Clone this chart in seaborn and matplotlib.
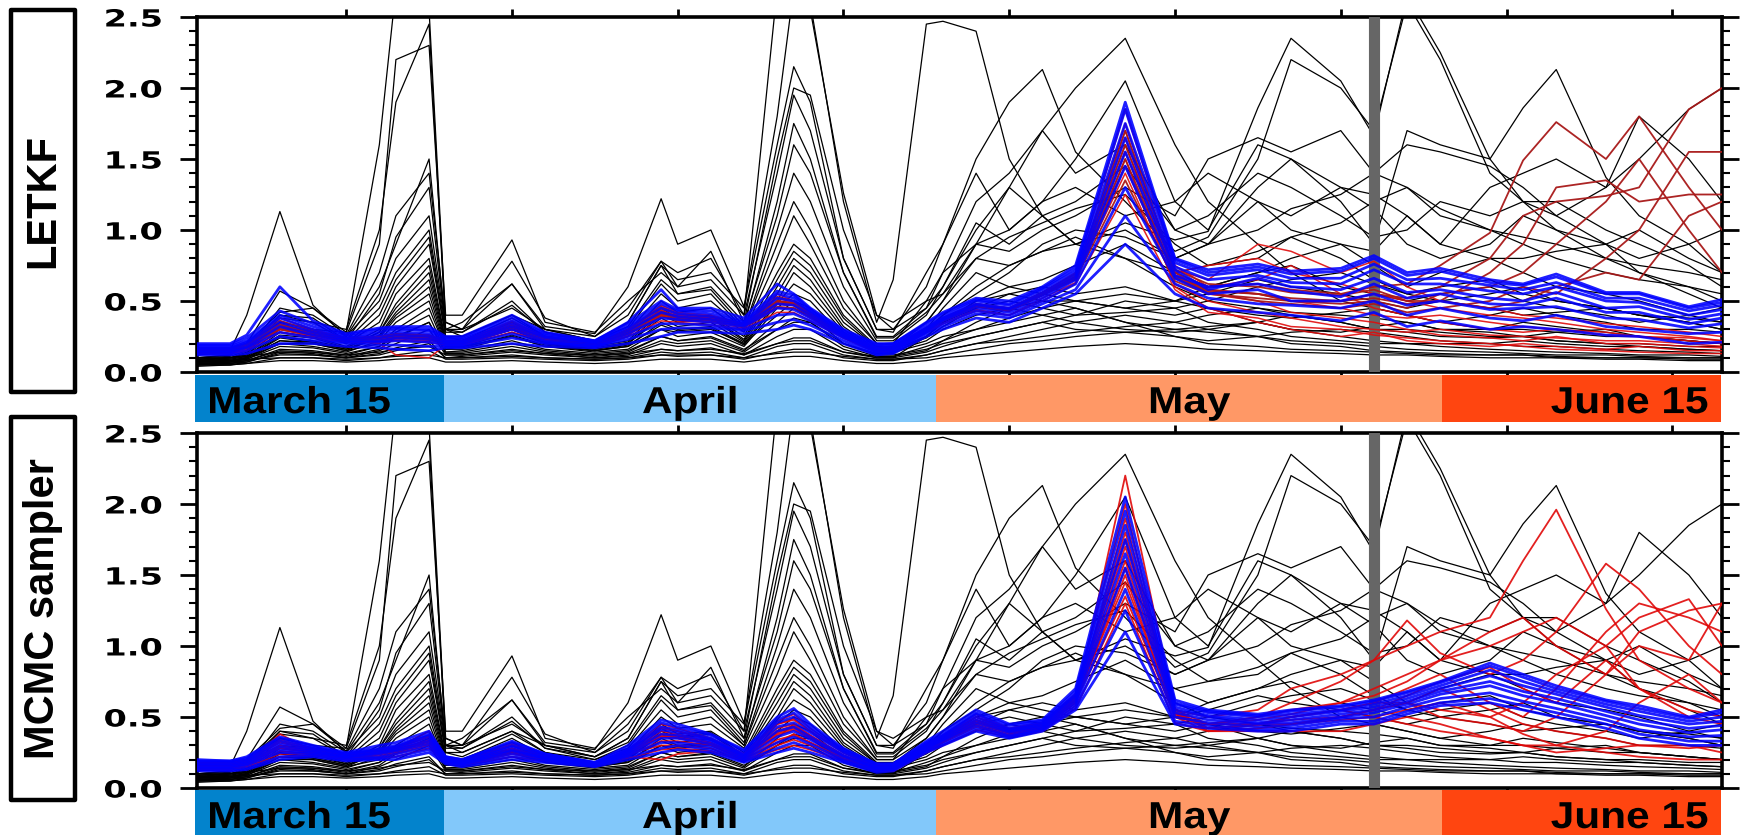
import matplotlib
matplotlib.use("Agg")
import matplotlib.pyplot as plt
from matplotlib.patches import Rectangle
from matplotlib.patheffects import AbstractPathEffect
from matplotlib.ticker import MultipleLocator
from matplotlib.transforms import Affine2D
import pandas as pd
import seaborn as sns

# day index (0 = March 16) of the values
days = [0, 2, 3, 5, 7, 9, 11, 12, 14, 15,
        16, 19, 21, 24, 26, 28, 29, 31, 33, 35,
        36, 37, 39, 41, 42, 44, 45, 47, 49, 51,
        53, 56, 59, 61, 64, 66, 69, 71, 73, 75,
        78, 80, 82, 85, 87, 90, 92]

# black runs (same in both panels)
black_runs = [
    [.12,.14,.20,.35,.30,.28,1.60,2.70,2.55,.35, .30,.45,.30,.25,.45,.78,.70,.80,.40,2.70, 2.80,2.60,1.20,.35,.65,2.45,2.47,2.40,1.50,1.10, .90,.80,.60,.50,.45,.40,.35,.30,.30,.28, .25,.25,.22,.20,.20,.18,.18],
    [.10,.12,.18,.40,.35,.30,1.00,1.90,2.45,.30, .25,.40,.30,.22,.35,.75,.65,.70,.45,1.60, 2.15,1.90,.80,.30,.30,.45,.60,1.00,1.30,1.70, 2.00,2.35,1.60,1.20,.90,.70,.50,.45,.40,.35, .30,.30,.28,.25,.25,.22,.20],
    [.12,.15,.20,.42,.45,.28,.90,2.20,2.30,.40, .40,.93,.35,.28,.50,.70,.60,.85,.35,1.50, 2.00,1.95,1.00,.40,.35,.50,.55,.80,.75,.85, .90,1.05,.93,.99,1.86,2.35,2.05,1.66,2.65,2.25, 1.50,1.86,2.13,1.37,1.10,.90,.70],
    [.13,.15,.40,1.13,.47,.25,.60,.90,1.50,.30, .35,.62,.32,.27,.60,1.22,.90,1.00,.46,1.80, 2.70,2.55,1.26,.40,.30,.60,.90,1.50,1.90,2.13, 1.55,1.20,.85,.95,1.50,2.20,2.00,1.70,2.60,2.20, 1.40,1.20,1.10,1.30,1.80,1.50,1.20],
    [.10,.12,.20,.57,.45,.26,.70,1.10,1.40,.35, .30,.78,.38,.25,.40,.78,.60,.65,.40,1.40, 1.95,1.70,.80,.30,.28,.70,.90,1.40,1.00,1.20, 1.50,2.05,1.20,1.00,1.60,1.50,1.30,1.25,1.10,.90, 1.30,1.40,1.50,1.30,1.50,1.85,2.00],
    [.10,.11,.15,.45,.40,.25,.50,.80,1.10,.30, .30,.62,.30,.22,.35,.75,.55,.60,.35,1.10, 1.60,1.40,.70,.25,.25,.45,.70,1.20,1.40,1.70, 1.40,1.60,1.00,.90,1.30,1.50,1.20,.90,1.70,1.60, 1.50,1.20,1.00,.90,1.00,.80,.70],
    [.09,.10,.13,.38,.35,.22,.45,.70,1.00,.28, .28,.47,.28,.20,.30,.62,.50,.55,.30,1.00, 1.40,1.20,.60,.22,.22,.40,.60,1.05,.90,1.10, 1.20,1.45,1.00,1.10,1.40,1.30,1.10,.95,1.00,1.20, 1.10,1.20,1.20,1.00,.90,.75,.60],
    [.09,.10,.12,.35,.30,.20,.40,.65,.95,.25, .25,.40,.25,.20,.28,.55,.45,.50,.30,.90, 1.20,1.00,.50,.20,.20,.35,.50,.90,1.00,1.20, 1.30,1.10,1.20,1.40,1.20,1.10,1.30,1.15,.90,.80, .90,1.10,1.00,.80,.70,.60,.50],
    [.08,.10,.12,.30,.28,.20,.35,.60,.90,.25, .22,.38,.25,.18,.25,.50,.42,.45,.28,.80, 1.10,.90,.45,.20,.20,.50,.70,.90,1.30,1.10, .90,1.00,.80,.90,1.20,1.00,.90,.85,1.10,.90, .80,.80,.85,.90,.70,.55,.45],
    [.08,.09,.11,.28,.25,.18,.30,.55,.80,.22, .20,.35,.22,.18,.22,.45,.38,.40,.25,.70, .90,.80,.40,.18,.18,.30,.45,.70,.60,.65, .75,.90,.70,.60,.70,.80,.90,.75,.60,.70, .80,.70,.60,.55,.50,.40,.35],
    [.07,.08,.10,.25,.22,.17,.28,.45,.70,.20, .20,.30,.20,.16,.20,.40,.35,.38,.22,.60, .80,.70,.35,.17,.16,.25,.35,.50,.55,.60, .55,.60,.50,.55,.65,.60,.55,.50,.45,.50, .55,.60,.50,.45,.40,.35,.30],
    [.07,.08,.10,.22,.20,.15,.25,.40,.60,.18, .18,.28,.20,.15,.18,.35,.30,.32,.20,.50, .70,.60,.30,.15,.15,.22,.30,.40,.45,.50, .50,.45,.40,.45,.40,.38,.42,.45,.40,.35, .40,.45,.40,.35,.30,.30,.28],
    [.06,.07,.09,.20,.18,.14,.22,.35,.50,.16, .16,.25,.18,.14,.16,.30,.25,.28,.18,.45, .55,.50,.25,.14,.14,.20,.25,.30,.35,.40, .45,.35,.30,.32,.35,.30,.28,.32,.35,.30, .30,.35,.32,.28,.25,.22,.20],
    [.05,.06,.08,.16,.15,.12,.18,.28,.40,.14, .14,.20,.15,.12,.14,.25,.22,.24,.15,.35, .45,.40,.20,.12,.12,.16,.20,.25,.30,.35, .40,.50,.45,.35,.30,.25,.22,.20,.20,.20, .20,.22,.20,.18,.18,.16,.15],
    [.05,.05,.07,.14,.13,.10,.15,.20,.30,.12, .12,.16,.13,.10,.12,.20,.18,.20,.12,.25, .30,.30,.16,.10,.10,.25,.35,.45,.55,.50, .45,.35,.25,.20,.18,.16,.15,.14,.13,.12, .12,.12,.11,.10,.10,.10,.10],
    [.04,.05,.06,.10,.10,.08,.10,.12,.15,.09, .09,.10,.09,.08,.09,.12,.11,.12,.09,.14, .16,.16,.10,.08,.08,.12,.15,.20,.25,.30, .35,.40,.35,.30,.25,.20,.18,.15,.14,.13, .12,.12,.10,.10,.10,.09,.09],
    [.06,.07,.08,.12,.12,.10,.12,.15,.20,.10, .10,.12,.10,.09,.10,.14,.13,.14,.10,.18, .20,.20,.12,.09,.09,.12,.15,.20,.22,.25, .28,.32,.35,.40,.45,.42,.40,.38,.35,.30, .28,.25,.22,.20,.18,.16,.15],
    [.07,.08,.10,.20,.20,.15,.20,.30,.45,.16, .18,.25,.18,.15,.18,.30,.28,.30,.20,.40, .50,.45,.25,.15,.15,.30,.40,.55,.70,.90, 1.00,.95,.80,.90,1.00,1.15,1.25,1.40,1.60,1.55, 1.45,1.30,1.10,.90,.80,.90,1.00],
    [.06,.07,.09,.18,.17,.13,.18,.25,.35,.14, .15,.22,.16,.13,.15,.25,.22,.25,.16,.30, .35,.35,.20,.13,.13,.25,.35,.50,.60,.55, .50,.45,.50,.60,.70,.75,.60,.55,.50,.55, .60,.50,.45,.40,.35,.40,.45],
    [.05,.06,.07,.13,.12,.10,.13,.17,.22,.10, .11,.14,.12,.10,.11,.16,.15,.17,.12,.20, .24,.24,.14,.10,.10,.14,.18,.25,.30,.35, .30,.28,.25,.22,.25,.28,.30,.28,.25,.22, .20,.18,.18,.16,.15,.14,.13],
    [.08,.08,.09,.10,.10,.09,.10,.11,.12,.10, .10,.11,.10,.09,.10,.12,.12,.12,.10,.13, .14,.14,.11,.09,.09,.10,.12,.16,.20,.22, .25,.28,.30,.28,.25,.22,.20,.18,.16,.15, .14,.13,.12,.12,.11,.10,.10],
    [.10,.10,.11,.14,.14,.12,.14,.16,.18,.12, .12,.15,.13,.12,.13,.16,.15,.16,.13,.20, .22,.22,.14,.11,.11,.18,.22,.30,.38,.45, .50,.55,.50,.45,.35,.30,.25,.22,.20,.18, .16,.15,.14,.13,.12,.12,.11],
    [.09,.10,.14,.40,.38,.22,.55,.95,1.30,.30, .28,.50,.28,.22,.32,.65,.55,.58,.32,1.20, 1.75,1.50,.70,.24,.24,.42,.55,.90,.85,1.00, 1.10,1.30,1.10,1.50,1.65,1.55,1.70,1.40,1.30,1.10, 1.00,.95,.90,.80,.75,.70,.65],
    [.07,.08,.10,.24,.21,.16,.26,.42,.65,.19, .19,.30,.21,.16,.20,.38,.32,.35,.21,.55, .75,.65,.32,.16,.16,.24,.32,.45,.50,.45, .40,.42,.45,.50,.60,.65,.70,.62,.55,.60, .65,.55,.50,.45,.40,.38,.35],
    [.06,.06,.08,.15,.14,.11,.16,.24,.35,.13, .13,.18,.14,.11,.13,.22,.20,.22,.14,.30, .38,.35,.18,.11,.11,.15,.22,.35,.45,.40, .35,.30,.28,.30,.35,.40,.35,.30,.28,.25, .24,.25,.28,.30,.25,.22,.20],
    [.08,.09,.11,.26,.24,.17,.28,.48,.75,.21, .20,.32,.21,.17,.21,.42,.36,.39,.23,.65, .85,.75,.38,.17,.17,.35,.50,.80,.95,1.05, 1.15,1.25,.90,.75,.80,.95,1.05,1.20,1.30,1.15, 1.00,.90,.80,.70,.65,.60,.55],
    [.05,.05,.06,.08,.08,.07,.08,.09,.10,.07, .07,.08,.07,.06,.07,.09,.09,.09,.07,.10, .11,.11,.08,.06,.06,.08,.10,.12,.14,.16, .18,.20,.18,.16,.15,.14,.13,.12,.12,.11, .10,.10,.10,.09,.09,.08,.08],
    [.07,.08,.10,.22,.21,.16,.24,.38,.55,.17, .17,.26,.19,.15,.19,.33,.29,.31,.19,.48, .62,.55,.28,.15,.15,.28,.40,.60,.75,.85, .95,.80,.70,.75,.85,.95,.80,.65,.55,.50, .45,.40,.42,.45,.40,.35,.30],
]

# LETKF panel
letkf_blue = [
    [.12,.12,.13,.20,.20,.18,.17,.16,.15,.17, .17,.20,.18,.17,.20,.25,.28,.28,.27,.30, .33,.30,.20,.12,.13,.25,.30,.38,.35,.45, .55,.90,.55,.45,.42,.40,.36,.42,.32,.36, .30,.32,.30,.26,.25,.20,.21],
    [.13,.13,.15,.25,.22,.20,.19,.19,.18,.18, .18,.24,.20,.18,.23,.30,.31,.31,.29,.35, .37,.33,.22,.13,.14,.27,.32,.41,.38,.48, .58,1.10,.62,.52,.48,.47,.45,.50,.40,.45, .38,.36,.40,.32,.30,.27,.28],
    [.14,.14,.17,.28,.24,.21,.21,.22,.21,.19, .19,.27,.21,.18,.25,.34,.34,.33,.30,.40, .41,.36,.24,.14,.15,.28,.34,.43,.40,.50, .62,1.30,.66,.55,.58,.50,.50,.55,.47,.50, .44,.45,.46,.38,.37,.31,.34],
    [.15,.15,.18,.32,.26,.22,.22,.24,.23,.20, .20,.30,.22,.19,.27,.38,.37,.35,.32,.45, .44,.38,.25,.15,.16,.29,.36,.45,.42,.52, .65,1.45,.68,.60,.62,.57,.53,.62,.52,.55, .48,.47,.52,.42,.42,.34,.38],
    [.16,.16,.20,.35,.28,.23,.24,.26,.25,.21, .21,.32,.24,.20,.29,.42,.39,.37,.33,.48, .47,.40,.26,.16,.17,.30,.37,.47,.44,.54, .67,1.55,.72,.58,.66,.60,.58,.66,.56,.58, .52,.50,.56,.45,.46,.37,.41],
    [.17,.17,.21,.38,.30,.24,.26,.28,.27,.22, .22,.34,.25,.21,.31,.45,.41,.39,.34,.52, .50,.42,.27,.17,.18,.31,.38,.48,.45,.56, .69,1.65,.74,.65,.68,.63,.62,.72,.62,.62, .57,.55,.60,.50,.49,.40,.44],
    [.18,.18,.22,.40,.32,.25,.28,.30,.29,.23, .23,.36,.26,.21,.32,.48,.43,.41,.35,.55, .52,.43,.28,.18,.19,.32,.39,.50,.47,.58, .71,1.75,.77,.68,.72,.66,.66,.76,.65,.66, .61,.58,.63,.52,.52,.43,.47],
    [.19,.19,.24,.43,.34,.26,.30,.31,.30,.24, .24,.38,.27,.22,.34,.50,.44,.43,.36,.57, .54,.44,.29,.19,.20,.34,.41,.51,.48,.59, .73,1.85,.79,.70,.74,.69,.71,.80,.68,.71, .63,.61,.67,.55,.55,.45,.49],
    [.20,.20,.26,.60,.36,.27,.31,.32,.32,.25, .25,.40,.28,.22,.35,.58,.45,.45,.38,.62, .55,.45,.30,.20,.20,.35,.42,.52,.50,.60, .75,1.90,.80,.72,.76,.71,.73,.82,.70,.73, .65,.62,.69,.56,.56,.46,.51],
]
letkf_red = [
    [.13,.13,.16,.30,.25,.22,.20,.12,.10,.19, .19,.30,.22,.18,.26,.40,.36,.35,.31,.45, .45,.38,.24,.14,.15,.28,.34,.44,.40,.52, .63,1.50,.60,.45,.35,.30,.25,.28,.22,.20, .18,.20,.18,.16,.18,.15,.15],
    [.15,.15,.18,.34,.27,.22,.23,.25,.24,.20, .20,.33,.24,.19,.28,.44,.38,.38,.32,.50, .48,.40,.26,.15,.16,.29,.36,.46,.43,.55, .66,1.70,.70,.55,.50,.42,.38,.35,.30,.26, .24,.22,.25,.20,.20,.18,.17],
    [.17,.17,.20,.38,.30,.24,.25,.27,.26,.22, .22,.36,.25,.20,.30,.47,.42,.40,.34,.55, .50,.42,.27,.17,.18,.31,.38,.48,.45,.56, .70,1.85,.75,.60,.65,.75,.55,.45,.40,.35, .30,.28,.30,.26,.25,.22,.20],
    [.14,.14,.17,.32,.28,.23,.22,.23,.22,.21, .21,.31,.23,.19,.27,.42,.40,.38,.33,.50, .49,.41,.26,.16,.17,.30,.37,.47,.44,.55, .68,1.60,.72,.65,.90,.85,.70,.78,.60,.50, .45,.40,.38,.34,.32,.28,.25],
    [.16,.16,.19,.36,.29,.23,.24,.26,.25,.21, .21,.34,.24,.20,.29,.45,.40,.39,.33,.52, .49,.41,.27,.16,.17,.30,.37,.47,.44,.55, .67,1.40,.62,.50,.42,.38,.32,.30,.28,.30, .26,.25,.24,.22,.22,.20,.18],
    [.15,.15,.18,.30,.26,.22,.23,.24,.24,.20, .20,.30,.23,.19,.27,.40,.38,.37,.32,.48, .47,.40,.25,.15,.16,.29,.36,.46,.43,.54, .66,1.75,.70,.75,.80,.70,.62,.55,.50,.45, .40,.38,.35,.30,.28,.25,.22],
    [.13,.13,.15,.28,.24,.21,.21,.22,.21,.19, .19,.28,.22,.18,.25,.36,.35,.33,.30,.42, .42,.36,.24,.14,.15,.28,.34,.43,.40,.50, .62,1.25,.58,.42,.38,.32,.30,.26,.24,.22, .20,.18,.16,.15,.14,.13,.13],
    [.15,.15,.18,.33,.27,.22,.23,.25,.24,.20, .20,.32,.23,.19,.28,.43,.38,.37,.32,.49, .47,.40,.26,.15,.16,.29,.36,.46,.43,.54, .66,1.65,.68,.58,.55,.50,.45,.40,.38,.40, .35,.32,.30,.28,.25,.24,.22],
]
letkf_darkred = [
    [.16,.16,.19,.34,.28,.23,.24,.26,.25,.21, .21,.33,.24,.20,.29,.43,.39,.37,.33,.50, .48,.40,.26,.16,.17,.30,.37,.47,.44,.55, .67,1.60,.70,.60,.62,.58,.55,.60,.62,.75, .98,1.49,1.76,1.50,1.80,1.30,1.00],
    [.15,.15,.18,.31,.27,.22,.23,.25,.24,.20, .20,.31,.23,.19,.28,.41,.38,.37,.32,.48, .47,.40,.26,.16,.17,.30,.37,.47,.44,.55, .66,1.50,.68,.58,.55,.52,.50,.55,.52,.60, .80,1.10,1.20,1.24,1.30,1.85,2.00],
    [.17,.17,.20,.36,.29,.24,.25,.27,.26,.22, .22,.35,.25,.20,.30,.46,.41,.39,.34,.53, .50,.42,.27,.17,.18,.31,.38,.48,.45,.56, .69,1.70,.72,.62,.60,.56,.54,.58,.50,.50, .70,.90,1.30,1.35,1.20,1.25,1.25],
    [.14,.14,.17,.30,.26,.22,.22,.24,.23,.20, .20,.30,.22,.19,.27,.39,.37,.36,.32,.46, .45,.39,.25,.15,.16,.29,.36,.46,.43,.54, .65,1.35,.64,.55,.52,.50,.48,.50,.45,.55, .60,.70,.90,1.20,1.50,1.00,.70],
    [.16,.16,.19,.33,.28,.23,.24,.26,.25,.21, .21,.32,.24,.20,.29,.42,.39,.37,.33,.50, .48,.40,.26,.16,.17,.30,.37,.47,.44,.55, .67,1.45,.66,.56,.50,.48,.45,.48,.42,.45, .50,.60,.55,.80,1.00,1.55,1.55],
    [.15,.15,.18,.32,.27,.22,.23,.25,.24,.20, .20,.31,.23,.19,.28,.41,.38,.37,.32,.48, .47,.40,.26,.16,.17,.30,.37,.47,.44,.55, .66,1.55,.67,.57,.55,.50,.50,.52,.48,.50, .45,.50,.60,.70,.65,1.10,1.20],
]

# MCMC sampler panel
mcmc_blue = [
    [.12,.12,.13,.20,.22,.19,.20,.20,.25,.17, .15,.20,.18,.15,.20,.25,.27,.25,.18,.25, .28,.25,.18,.11,.12,.25,.30,.40,.35,.40, .55,1.10,.45,.42,.40,.40,.45,.45,.52,.58, .60,.55,.50,.42,.35,.30,.30],
    [.13,.13,.14,.22,.23,.20,.21,.22,.27,.18, .16,.22,.19,.155,.22,.28,.30,.27,.19,.28, .32,.28,.19,.12,.13,.26,.31,.42,.36,.41, .57,1.25,.47,.44,.41,.42,.47,.47,.54,.60, .63,.58,.53,.45,.38,.33,.33],
    [.14,.14,.16,.25,.24,.21,.22,.24,.29,.19, .17,.24,.20,.16,.23,.32,.32,.29,.20,.32, .36,.31,.20,.13,.13,.27,.33,.44,.37,.42, .59,1.40,.50,.46,.43,.44,.49,.50,.57,.63, .67,.61,.56,.48,.41,.36,.37],
    [.15,.15,.17,.27,.25,.22,.24,.26,.31,.19, .17,.26,.21,.16,.24,.35,.35,.31,.21,.36, .40,.34,.22,.14,.14,.28,.34,.46,.39,.43, .61,1.55,.53,.48,.45,.46,.50,.53,.59,.66, .72,.65,.60,.51,.45,.39,.41],
    [.16,.16,.18,.29,.26,.22,.25,.27,.33,.20, .18,.27,.21,.17,.25,.38,.37,.33,.22,.40, .43,.36,.23,.14,.15,.29,.35,.48,.40,.44, .63,1.65,.55,.50,.46,.48,.52,.55,.61,.68, .75,.68,.63,.54,.48,.42,.44],
    [.17,.17,.19,.31,.27,.23,.26,.28,.35,.20, .18,.29,.22,.17,.26,.41,.39,.34,.23,.43, .46,.39,.25,.15,.15,.30,.36,.50,.41,.45, .65,1.75,.57,.51,.48,.50,.54,.57,.63,.70, .79,.72,.66,.57,.51,.45,.47],
    [.18,.18,.20,.33,.28,.24,.27,.29,.37,.21, .19,.30,.23,.17,.27,.43,.41,.35,.24,.46, .50,.41,.26,.16,.16,.31,.37,.52,.42,.46, .66,1.85,.59,.53,.50,.52,.55,.59,.65,.72, .83,.75,.68,.59,.54,.47,.50],
    [.19,.19,.21,.35,.29,.24,.28,.30,.38,.22, .20,.32,.24,.18,.28,.46,.43,.37,.26,.48, .53,.43,.27,.17,.17,.32,.38,.53,.44,.47, .68,1.95,.60,.54,.51,.54,.57,.61,.67,.74, .86,.78,.70,.61,.56,.49,.53],
    [.20,.19,.22,.36,.30,.25,.30,.32,.40,.22, .20,.33,.24,.18,.30,.48,.45,.38,.27,.50, .56,.45,.28,.17,.17,.33,.40,.55,.45,.48, .70,2.05,.62,.55,.52,.55,.58,.62,.68,.75, .88,.80,.72,.62,.58,.50,.55],
]
mcmc_red = [
    [.14,.14,.17,.38,.26,.21,.24,.28,.40,.19, .17,.27,.21,.16,.24,.30,.30,.28,.20,.32, .38,.32,.21,.13,.13,.27,.33,.45,.38,.42, .60,2.20,.55,.50,.55,.70,.80,.90,1.00,1.10, 1.20,1.60,1.96,1.26,.90,.70,.60],
    [.13,.13,.15,.24,.24,.20,.22,.24,.30,.18, .16,.24,.20,.16,.22,.20,.24,.26,.19,.30, .34,.30,.20,.12,.13,.26,.32,.43,.37,.41, .58,1.90,.50,.45,.50,.60,.75,.90,1.18,.95, .80,.90,1.10,1.58,1.40,1.00,.80],
    [.15,.15,.17,.28,.25,.22,.24,.26,.33,.19, .17,.27,.21,.16,.25,.36,.36,.31,.21,.38, .42,.35,.22,.14,.14,.28,.34,.47,.39,.43, .62,1.70,.52,.45,.50,.55,.60,.70,.80,.90, 1.00,1.10,1.20,1.00,1.20,1.33,1.00],
    [.16,.16,.18,.30,.26,.22,.25,.27,.34,.20, .18,.28,.21,.17,.25,.40,.38,.32,.22,.42, .45,.37,.23,.14,.15,.29,.35,.48,.40,.44, .63,1.60,.54,.42,.45,.50,.55,.60,.70,.80, .60,.50,.70,1.10,1.30,1.20,1.10],
    [.17,.17,.19,.32,.27,.23,.26,.28,.36,.20, .18,.30,.22,.17,.26,.42,.40,.34,.23,.45, .48,.40,.25,.15,.15,.30,.36,.50,.41,.45, .65,1.80,.56,.40,.42,.45,.50,.55,.60,.50, .45,.40,.50,.80,1.00,.90,1.30],
    [.18,.18,.20,.34,.28,.24,.27,.29,.37,.21, .19,.31,.23,.17,.27,.45,.42,.35,.24,.47, .52,.42,.26,.16,.16,.31,.37,.52,.42,.46, .66,2.00,.50,.45,.45,.50,.55,.50,.45,.40, .35,.30,.30,.40,.60,.80,.60],
    [.13,.13,.15,.22,.23,.20,.21,.22,.28,.18, .16,.22,.19,.155,.21,.27,.28,.26,.19,.27, .30,.27,.19,.12,.12,.25,.30,.41,.36,.40, .56,1.30,.46,.40,.40,.40,.40,.45,.50,.45, .35,.30,.25,.28,.30,.30,.25],
    [.14,.14,.16,.26,.24,.21,.23,.25,.31,.19, .17,.25,.20,.16,.23,.33,.33,.30,.20,.34, .37,.32,.21,.13,.13,.27,.33,.44,.37,.42, .60,1.50,.50,.45,.45,.48,.50,.55,.60,.70, .55,.45,.40,.35,.30,.28,.30],
    [.16,.16,.18,.30,.26,.22,.25,.27,.33,.20, .18,.28,.21,.17,.25,.38,.37,.32,.22,.40, .44,.37,.23,.14,.15,.29,.35,.48,.40,.44, .62,1.45,.52,.42,.45,.45,.50,.55,.65,.75, .85,.70,.60,.90,.70,.50,.45],
    [.15,.15,.17,.28,.25,.22,.24,.26,.32,.19, .17,.26,.21,.16,.24,.36,.35,.31,.21,.37, .41,.35,.22,.14,.14,.28,.34,.46,.39,.43, .61,1.35,.50,.40,.42,.45,.48,.50,.55,.60, .50,.38,.30,.25,.22,.20,.20],
    [.17,.17,.19,.33,.27,.23,.26,.28,.36,.20, .18,.30,.22,.17,.26,.43,.40,.34,.23,.45, .49,.40,.25,.15,.15,.30,.36,.50,.41,.45, .64,1.75,.55,.45,.48,.52,.60,.65,.75,.90, 1.10,1.20,1.00,.80,1.10,1.25,1.30],
    [.15,.15,.17,.29,.25,.22,.24,.26,.33,.19, .17,.27,.21,.16,.24,.37,.36,.31,.21,.39, .43,.36,.22,.14,.14,.28,.34,.47,.39,.43, .62,1.55,.53,.42,.44,.50,.55,.60,.60,.55, .50,.60,.80,1.00,.70,.55,.50],
]

panel_names = ["LETKF", "MCMC sampler"]
month_names = ["March 15", "April", "May", "June 15"]
month_edges = [0, 15, 44.7, 75.2, 92]
month_colors = ["#0383cc", "#82c8fa", "#ff9866", "#ff4510"]
x_ticks = [9, 19, 29, 39, 49, 59, 69, 79, 89]
y_ticks = [0.0, 0.5, 1.0, 1.5, 2.0, 2.5]
marker_day = 71

for group in (black_runs, letkf_blue, letkf_red, letkf_darkred, mcmc_blue, mcmc_red):
    for run in group:
        assert len(run) == len(days), (len(run), run[:3])


class WideText(AbstractPathEffect):
    """Stretch a text path sideways, keeping one side fixed."""

    def __init__(self, sx, anchor="center"):
        super().__init__()
        self.sx = sx
        self.anchor = anchor

    def draw_path(self, renderer, gc, tpath, affine, rgbFace=None):
        ext = tpath.get_extents()
        x0 = {"left": ext.x0, "center": (ext.x0 + ext.x1) / 2, "right": ext.x1}[self.anchor]
        t = Affine2D().translate(-x0, 0).scale(self.sx, 1).translate(x0, 0)
        renderer.draw_path(gc, tpath, t + affine, rgbFace)


def to_long(runs):
    rows = []
    for k, run in enumerate(runs):
        for d, v in zip(days, run):
            rows.append((k, d, v))
    return pd.DataFrame(rows, columns=["member", "day", "value"])


def runs_plot(ax, runs, color, lw, alpha, z):
    sns.lineplot(data=to_long(runs), x="day", y="value", units="member",
                 estimator=None, sort=False, color=color, lw=lw, alpha=alpha,
                 legend=False, zorder=z, ax=ax)


sns.set_style("ticks")
plt.rcParams.update({
    "font.family": ["DejaVu Sans"],
    "text.color": "black",
    "xtick.color": "black",
    "ytick.color": "black",
    "axes.edgecolor": "black",
})

W, H = 1744, 835
fig = plt.figure(figsize=(W / 100, H / 100), dpi=100)

panel_boxes = [(17, 372), (433, 788)]   # pixel rows of each panel
band_boxes = [(375, 422), (790, 840)]
band_base = [0.19, 0.24]
label_boxes = [(10, 392), (417, 800)]
ax_left, ax_right = 197, 1722

groups = [
    [(letkf_red, "#e00c0c", 1.1, 0.9, 4), (letkf_darkred, "#a81818", 1.3, 0.95, 4),
     (letkf_blue, "#0000ff", 2.0, 0.88, 5)],
    [(mcmc_red, "#e00808", 1.3, 0.9, 4), (mcmc_blue, "#0000ff", 2.0, 0.88, 5)],
]

for i in range(2):
    top, bot = panel_boxes[i]
    ax = fig.add_axes([ax_left / W, 1 - bot / H, (ax_right - ax_left) / W, (bot - top) / H])
    runs_plot(ax, black_runs, "black", 0.9, 1.0, 2)
    ax.axvline(marker_day, color="#666666", lw=8, zorder=3)
    for runs, c, lw, a, z in groups[i]:
        runs_plot(ax, runs, c, lw, a, z)

    ax.set_xlim(month_edges[0], month_edges[-1])
    ax.set_ylim(0, 2.5)
    ax.set_xlabel("")
    ax.set_ylabel("")
    ax.set_yticks(y_ticks)
    ax.set_yticklabels([f"{v:.1f}" for v in y_ticks], fontsize=17, fontweight="bold")
    for lab in ax.get_yticklabels():
        lab.set_path_effects([WideText(1.42, "right")])
    ax.yaxis.set_minor_locator(MultipleLocator(0.1))
    ax.set_xticks(x_ticks)
    ax.set_xticklabels([])
    ax.tick_params(axis="y", which="major", direction="out", length=12, width=2,
                   left=True, right=True, pad=13)
    ax.tick_params(axis="y", which="minor", direction="out", length=6, width=1.5,
                   left=True, right=True)
    ax.tick_params(axis="x", which="major", direction="out", length=6, width=2,
                   top=True, bottom=True)
    for s in ax.spines.values():
        s.set_linewidth(2.6)
        s.set_visible(True)

    # month band
    b0, b1 = band_boxes[i]
    bax = fig.add_axes([195 / W, 1 - b1 / H, (1721 - 195) / W, (b1 - b0) / H])
    for lo, hi, c in zip(month_edges[:-1], month_edges[1:], month_colors):
        bax.axvspan(lo, hi, color=c, lw=0)
    bax.set_xlim(month_edges[0], month_edges[-1])
    bax.set_ylim(0, 1)
    bax.axis("off")
    yb = band_base[i]
    bfont = dict(family=["Liberation Sans", "DejaVu Sans"], fontsize=27,
                 fontweight="bold", va="baseline")
    t = bax.annotate(month_names[0], (month_edges[0], yb), xytext=(9, 0),
                     textcoords="offset points", ha="left", **bfont)
    t.set_path_effects([WideText(1.13, "left")])
    for k in (1, 2):
        t = bax.text((month_edges[k] + month_edges[k + 1]) / 2, yb, month_names[k],
                     ha="center", **bfont)
        t.set_path_effects([WideText(1.13, "center")])
    t = bax.annotate(month_names[3], (month_edges[4], yb), xytext=(-9, 0),
                     textcoords="offset points", ha="right", **bfont)
    t.set_path_effects([WideText(1.13, "right")])

    # boxed panel label
    l0, l1 = label_boxes[i]
    fig.patches.append(Rectangle((11 / W, 1 - l1 / H), 64 / W, (l1 - l0) / H,
                                 transform=fig.transFigure, fill=False, lw=3.2,
                                 ec="black", joinstyle="round"))
    fig.text(43 / W, 1 - (l0 + l1) / 2 / H, panel_names[i], rotation=90,
             ha="center", va="center", fontsize=30, fontweight="bold",
             family=["Liberation Sans", "DejaVu Sans"])

fig.savefig("out.png", dpi=100)
